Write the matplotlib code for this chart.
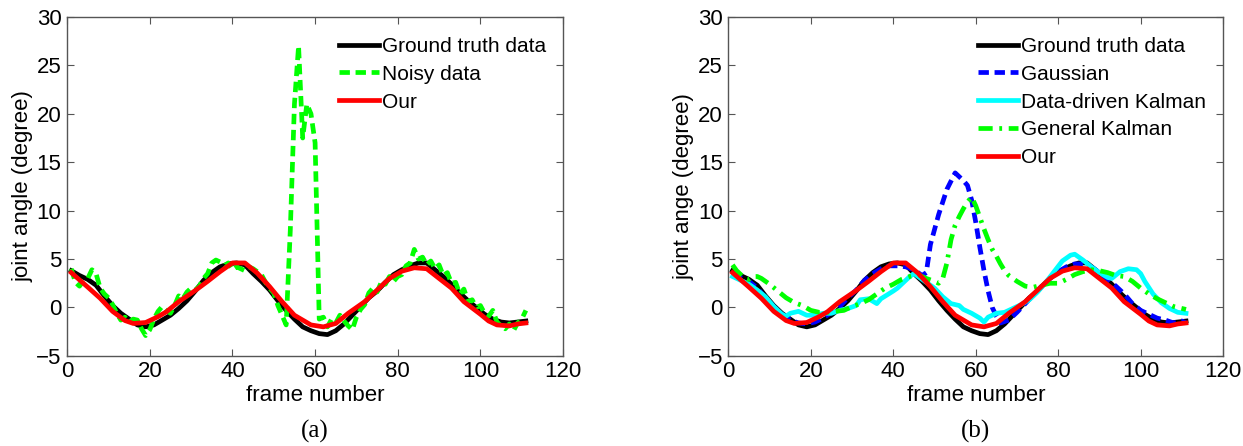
import numpy as np
import matplotlib.pyplot as plt

plt.rcParams['font.family'] = ['Liberation Sans', 'DejaVu Sans']

# ground truth joint angle (shared by both panels)
gt_x = [1, 3, 5, 7, 9, 11, 13, 15, 17, 19, 21, 23, 25, 27, 29, 31, 33, 35, 37, 39,
        41, 43, 45, 47, 49, 51, 53, 55, 57, 59, 61, 63, 65, 67, 69, 71, 73, 75, 77, 79,
        81, 83, 85, 87, 89, 91, 93, 95, 97, 99, 101, 103, 105, 107, 109, 111]
gt_y = [3.8, 3.3, 2.9, 2.3, 1.2, 0.2, -0.6, -1.2, -1.8, -2.0, -1.8, -1.3, -0.8, -0.1, 0.7, 1.7, 2.8, 3.6, 4.2, 4.5,
        4.6, 4.4, 3.5, 2.7, 1.8, 0.7, -0.3, -1.2, -2.0, -2.4, -2.7, -2.8, -2.4, -1.7, -0.8, 0.1, 1.0, 1.7, 2.6, 3.4,
        3.9, 4.3, 4.6, 4.6, 3.9, 3.2, 2.4, 1.5, 0.7, 0.0, -0.7, -1.2, -1.5, -1.6, -1.5, -1.4]

# our method
our_x = [1, 5, 8, 11, 14, 16, 19, 22, 24, 27, 31, 34, 37, 40, 43, 46, 49, 52, 55, 59,
         62, 65, 68, 72, 75, 78, 81, 84, 87, 90, 93, 96, 100, 102, 104, 107, 109, 111]
our_y = [3.6, 2.1, 0.95, -0.4, -1.35, -1.65, -1.55, -0.95, -0.45, 0.6, 1.75, 2.7, 3.7, 4.6, 4.6, 3.55, 2.15, 0.6, -0.8, -1.8,
         -2.0, -1.65, -0.6, 0.6, 1.8, 3.0, 3.75, 4.1, 4.0, 3.0, 2.0, 0.6, -0.7, -1.4, -1.8, -1.9, -1.7, -1.6]

# noisy observations (panel a)
noisy_x = list(range(1, 112))
noisy_y = [4.0, 2.6, 2.2, 2.8, 3.0, 3.9, 3.5, 2.0, 1.4, 1.0,
           0.3, -0.6, -1.3, -1.0, -1.5, -1.2, -1.3, -2.2, -2.9, -2.3,
           -1.2, -0.4, 0.1, -0.3, -0.6, 0.2, 1.2, 0.9, 1.6, 2.0,
           1.8, 2.2, 3.0, 3.5, 4.6, 4.9, 4.7, 4.3, 4.6, 3.9,
           4.2, 4.0, 3.8, 4.2, 4.0, 3.7, 3.4, 2.6, 2.0, 1.5,
           0.2, -0.8, -1.8, 8.0, 21.0, 27.0, 17.5, 21.0, 20.0, 17.0,
           -1.2, -1.0, -2.0, -1.2, -1.6, -0.8, -1.4, -1.9, -2.3, -1.0,
           -0.2, 0.3, 1.5, 2.0, 1.6, 2.6, 2.4, 3.2, 2.7, 3.2,
           3.4, 4.3, 4.6, 6.0, 5.0, 5.2, 4.4, 4.8, 4.0, 4.4,
           3.3, 3.6, 2.5, 2.6, 1.4, 1.9, 0.6, 0.8, 0.0, 0.2,
           -0.6, -0.9, -0.3, -1.5, -1.9, -2.2, -1.7, -2.4, -1.6, -1.2,
           -0.3]

# Gaussian filter (panel b)
gauss_x = [1, 3, 5, 7, 9, 11, 13, 15, 17, 19, 21, 23, 25, 27, 29, 31, 33, 35, 37, 39,
           41, 43, 45, 47, 48, 49, 51, 53, 55, 57, 58, 59, 60, 61, 62, 63, 64, 65, 66, 68,
           70, 72, 74, 76, 78, 80, 82, 84, 86, 88, 90, 92, 94, 96, 98, 100, 102, 104, 106, 108,
           110, 111]
gauss_y = [3.5, 3.1, 2.7, 2.0, 1.0, 0.1, -0.7, -1.3, -1.6, -1.7, -1.5, -1.1, -0.5, 0.1, 1.0, 1.8, 2.8, 3.5, 4.0, 4.3,
           4.3, 4.2, 3.9, 3.3, 3.6, 6.5, 9.6, 12.2, 13.9, 13.1, 12.6, 11.1, 8.8, 6.2, 3.8, 1.7, 0.0, -0.9, -1.6, -1.3,
           -0.5, 0.4, 1.3, 2.2, 3.0, 3.7, 4.2, 4.5, 4.5, 4.2, 3.6, 2.9, 2.2, 1.4, 0.4, -0.3, -0.7, -1.1, -1.3, -1.6,
           -1.4, -1.6]

# data-driven Kalman (panel b)
ddk_x = [1, 3, 5, 7, 9, 11, 13, 14, 15, 17, 19, 21, 23, 25, 27, 29, 31, 32, 34, 36,
         37, 40, 41, 42, 44, 45, 46, 48, 50, 52, 54, 56, 57, 59, 61, 62, 63, 65, 67, 69,
         71, 73, 75, 77, 79, 81, 83, 84, 86, 88, 90, 92, 93, 95, 97, 99, 100, 101, 103, 105,
         107, 109, 111]
ddk_y = [3.2, 2.8, 2.4, 1.8, 1.1, 0.1, -0.7, -0.9, -0.6, -0.4, -0.8, -0.8, -0.6, -0.6, -0.3, -0.1, 0.2, 0.8, 0.9, 0.4,
         0.9, 1.7, 2.0, 2.4, 3.2, 3.5, 3.2, 2.6, 2.0, 1.1, 0.4, 0.2, -0.2, -0.6, -1.1, -1.5, -1.0, -0.6, -0.5, -0.1,
         0.3, 0.8, 1.6, 2.6, 3.7, 4.8, 5.4, 5.5, 4.9, 4.2, 3.6, 3.1, 3.0, 3.7, 4.0, 3.9, 3.5, 2.7, 1.4, 0.5,
         -0.1, -0.5, -0.6]

# general Kalman (panel b)
gk_x = [1, 2, 4, 5, 6, 7, 8, 10, 12, 14, 16, 18, 20, 22, 24, 26, 28, 30, 32, 34,
        36, 38, 40, 42, 44, 46, 48, 50, 51, 52, 53, 54, 55, 56, 57, 58, 59, 60, 61, 62,
        63, 64, 65, 66, 67, 68, 70, 72, 74, 76, 78, 80, 82, 84, 86, 88, 90, 92, 94, 96,
        98, 100, 102, 104, 106, 108, 110, 111]
gk_y = [4.4, 3.8, 3.0, 2.9, 3.2, 3.2, 3.0, 2.4, 1.7, 1.0, 0.5, 0.2, -0.3, -0.5, -0.5, -0.4, -0.3, 0.1, 0.4, 0.8,
        1.4, 2.0, 2.4, 2.9, 3.2, 3.4, 3.0, 2.7, 2.5, 3.0, 4.6, 7.0, 8.5, 9.4, 10.2, 10.9, 11.4, 10.5, 9.3, 8.1,
        7.0, 6.0, 5.3, 4.5, 3.8, 3.3, 2.7, 2.2, 2.1, 2.3, 2.5, 2.5, 2.9, 3.4, 3.7, 3.9, 3.8, 3.6, 3.3, 3.2,
        2.7, 2.0, 1.4, 0.9, 0.5, 0.1, -0.1, -0.2]

fig = plt.figure(figsize=(12.43, 4.46), dpi=100)
ax1 = fig.add_axes([0.054, 0.202, 0.399, 0.760])
ax2 = fig.add_axes([0.586, 0.202, 0.398, 0.760])

lw = 3.4
dash = (0, (2.2, 1.2))
dashdot = (0, (3.0, 1.4, 0.6, 1.4))
ax1.plot(gt_x, gt_y, color='black', lw=lw, label='Ground truth data')
ax1.plot(noisy_x, noisy_y, color='#00ff00', lw=lw, ls=dash, label='Noisy data')
ax1.plot(our_x, our_y, color='red', lw=lw, label='Our')

ax2.plot(gt_x, gt_y, color='black', lw=lw, label='Ground truth data')
ax2.plot(gauss_x, gauss_y, color='blue', lw=lw, ls=dash, label='Gaussian')
ax2.plot(ddk_x, ddk_y, color='cyan', lw=lw, label='Data-driven Kalman')
ax2.plot(gk_x, gk_y, color='#00ff00', lw=lw, ls=dashdot, label='General Kalman')
ax2.plot(our_x, our_y, color='red', lw=lw, label='Our')

for ax, ylab, cap in [(ax1, 'joint angle (degree)', '(a)'), (ax2, 'joint ange (degree)', '(b)')]:
    ax.set_xlim(0, 120)
    ax.set_ylim(-5, 30)
    ax.set_xticks(range(0, 121, 20))
    ax.set_yticks(range(-5, 31, 5))
    ax.tick_params(direction='in', top=True, right=True, length=5, width=0.8,
                   labelsize=16, color='#555555', pad=4)
    for s in ax.spines.values():
        s.set_color('#555555')
        s.set_linewidth(1.0)
    ax.set_xlabel('frame number', fontsize=16, labelpad=2)
    ax.set_ylabel(ylab, fontsize=16, labelpad=2)
    ax.legend(loc='upper right', bbox_to_anchor=(1.0, 0.99), frameon=False, fontsize=15,
              handlelength=1.95, handletextpad=0.15, labelspacing=0.42, borderaxespad=0.4)
    ax.text(0.5, -0.222, cap, transform=ax.transAxes, ha='center', va='center',
            fontsize=18, family='Liberation Serif')

fig.savefig('out.png', dpi=100)
